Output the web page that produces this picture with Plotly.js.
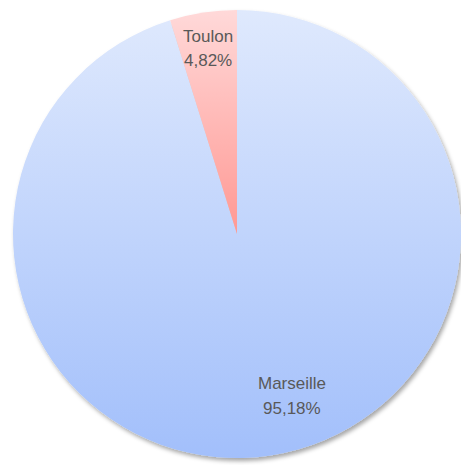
<!DOCTYPE html>
<html>
<head>
<meta charset="utf-8">
<script src="https://cdn.plot.ly/plotly-3.0.1.min.js"></script>
<style>
  html, body { margin: 0; padding: 0; background: #ffffff; }
  #chart { width: 461px; height: 465px; }
</style>
</head>
<body>
<div id="chart"></div>
<script>
// Data
const cities = ["Marseille", "Toulon"];
const shares = [95.18, 4.82];
const percentLabels = ["95,18%", "4,82%"];

// Gradient colours (top -> bottom) for each slice
const gradients = [
  ["#dfe9fd", "#a2bffb"],
  ["#ffd9d9", "#ff9893"]
];
const baseColors = ["#c4d6fc", "#ffbcba"];

const W = 461, H = 465;
const M = { l: 13, r: 0, t: 10, b: 7 };
const PW = W - M.l - M.r, PH = H - M.t - M.b;
function px(x) { return (x - M.l) / PW; }
function py(y) { return 1 - (y - M.t) / PH; }

// Label positions (pixels) for each slice
const labelPos = [
  { x: 292, y1: 383, y2: 408 },
  { x: 208, y1: 36, y2: 60 }
];

const labelFont = { family: "Liberation Sans, Arial, sans-serif", size: 17, color: "#595959" };
const annotations = [];
cities.forEach((c, i) => {
  annotations.push({ text: c, x: px(labelPos[i].x), y: py(labelPos[i].y1), xref: "paper", yref: "paper",
    showarrow: false, xanchor: "center", yanchor: "middle", font: labelFont });
  annotations.push({ text: percentLabels[i], x: px(labelPos[i].x), y: py(labelPos[i].y2), xref: "paper", yref: "paper",
    showarrow: false, xanchor: "center", yanchor: "middle", font: labelFont });
});

const trace = {
  type: "pie",
  labels: cities,
  values: shares,
  sort: false,
  direction: "clockwise",
  rotation: 0,
  textinfo: "none",
  hoverinfo: "skip",
  marker: { colors: baseColors, line: { width: 0 } },
  domain: { x: [0, 1], y: [0, 1] }
};

const layout = {
  width: W, height: H,
  margin: M,
  showlegend: false,
  paper_bgcolor: "#ffffff",
  separators: ", ",
  annotations: annotations
};

Plotly.newPlot("chart", [trace], layout, { staticPlot: true, displayModeBar: false }).then(() => {
  const svg = document.querySelector("#chart svg.main-svg");
  const NS = "http://www.w3.org/2000/svg";
  let defs = svg.querySelector("defs");
  if (!defs) { defs = document.createElementNS(NS, "defs"); svg.insertBefore(defs, svg.firstChild); }
  gradients.forEach((g, i) => {
    const lg = document.createElementNS(NS, "linearGradient");
    lg.setAttribute("id", "sliceGrad" + i);
    lg.setAttribute("x1", "0"); lg.setAttribute("y1", "0");
    lg.setAttribute("x2", "0"); lg.setAttribute("y2", "1");
    [[0, g[0]], [1, g[1]]].forEach(([o, col]) => {
      const st = document.createElementNS(NS, "stop");
      st.setAttribute("offset", o);
      st.setAttribute("stop-color", col);
      lg.appendChild(st);
    });
    defs.appendChild(lg);
  });
  const f = document.createElementNS(NS, "filter");
  f.setAttribute("id", "pieShadow");
  f.setAttribute("x", "-10%"); f.setAttribute("y", "-10%");
  f.setAttribute("width", "120%"); f.setAttribute("height", "120%");
  const ds = document.createElementNS(NS, "feDropShadow");
  ds.setAttribute("dx", "2"); ds.setAttribute("dy", "3");
  ds.setAttribute("stdDeviation", "2");
  ds.setAttribute("flood-color", "#000000");
  ds.setAttribute("flood-opacity", "0.35");
  f.appendChild(ds);
  defs.appendChild(f);

  const slices = svg.querySelectorAll(".pielayer .slice");
  slices.forEach((s, k) => {
    const d = s.__data__;
    const i = (d && typeof d.i === "number") ? d.i : k;
    const p = s.querySelector("path.surface");
    if (p) p.style.fill = "url(#sliceGrad" + i + ")";
  });
  const trGroup = svg.querySelector(".pielayer .trace");
  if (trGroup) trGroup.setAttribute("filter", "url(#pieShadow)");
});
</script>
</body>
</html>
